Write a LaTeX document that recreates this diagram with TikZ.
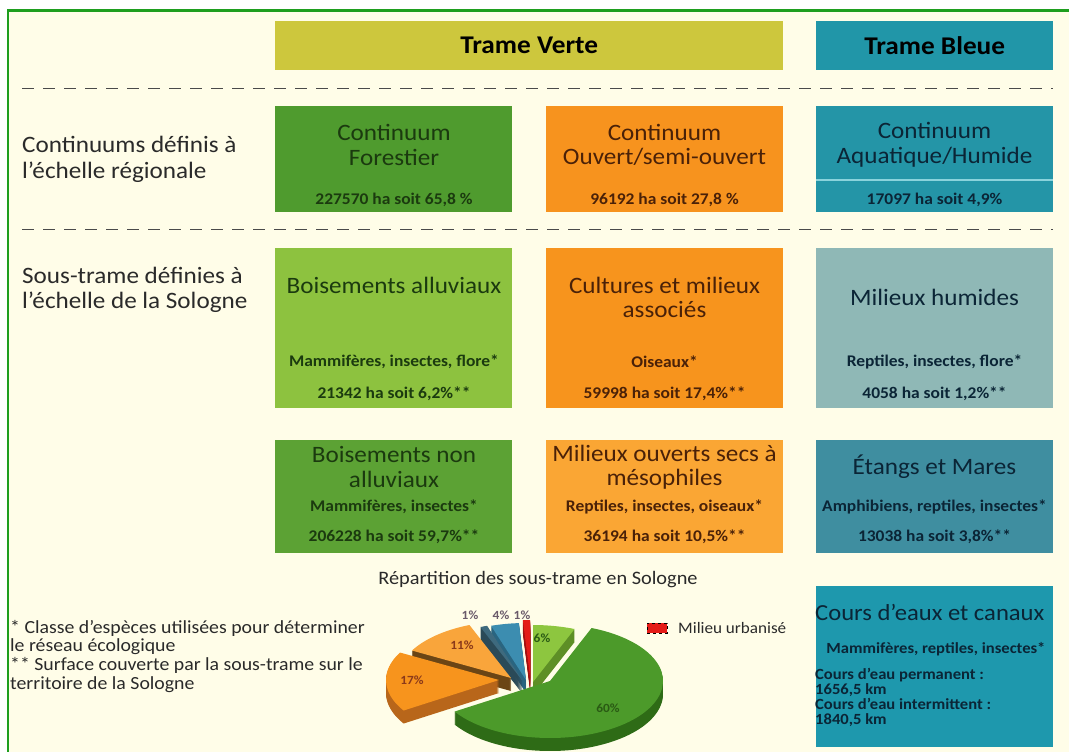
\documentclass[tikz,border=0pt]{standalone}
\usepackage{fontspec}
\setmainfont{Carlito}[FakeStretch=1.07]
\usetikzlibrary{positioning}

\definecolor{fond}{HTML}{FFFDE8}
\definecolor{cadre}{HTML}{1E9E1E}
\definecolor{verte}{HTML}{CDC73D}
\definecolor{bleue}{HTML}{2196A8}
\definecolor{forest}{HTML}{4F9B2E}
\definecolor{ouvert}{HTML}{F7931E}
\definecolor{aqua}{HTML}{2495A7}
\definecolor{aqualigne}{HTML}{8AD3DC}
\definecolor{alluv}{HTML}{8DC23F}
\definecolor{cultures}{HTML}{F7941D}
\definecolor{humides}{HTML}{8FB8B6}
\definecolor{nonalluv}{HTML}{5CA234}
\definecolor{secs}{HTML}{FAA634}
\definecolor{etangs}{HTML}{3F8EA0}
\definecolor{cours}{HTML}{1E98AD}
\definecolor{txtvert}{HTML}{1B3A0F}
\definecolor{txtorange}{HTML}{4A2108}
\definecolor{txtbleu}{HTML}{0B2536}
\definecolor{txtgris}{HTML}{2A2A2A}
\definecolor{tirets}{HTML}{4A4A4A}
\definecolor{partForet}{HTML}{4C9A2A}
\definecolor{partForetC}{HTML}{2E6B16}
\definecolor{partAlluv}{HTML}{8DC63F}
\definecolor{partAlluvC}{HTML}{5E8F26}
\definecolor{partCult}{HTML}{F7941D}
\definecolor{partCultC}{HTML}{B8661A}
\definecolor{partSecs}{HTML}{F9A53B}
\definecolor{partSecsC}{HTML}{6B4515}
\definecolor{partHumide}{HTML}{3E6A7E}
\definecolor{partHumideC}{HTML}{2A4A58}
\definecolor{partEtang}{HTML}{3C8DB0}
\definecolor{partEtangC}{HTML}{2A6580}
\definecolor{partUrb}{HTML}{E41B17}
\definecolor{partUrbC}{HTML}{A01010}
\definecolor{pctvert}{HTML}{2A5A14}
\definecolor{pctbrun}{HTML}{8B3A1A}
\definecolor{pctgris}{HTML}{6A5A6A}

\begin{document}
\begin{tikzpicture}[x=1pt, y=-1pt,
    box/.style={rectangle, inner sep=0pt, minimum width=237pt, anchor=north west},
    hdr/.style={box, minimum height=49pt, font=\bfseries\fontsize{25.5}{27}\selectfont},
    ttl/.style={align=center, inner sep=0pt, font=\fontsize{23.5}{24.5}\selectfont},
    sml/.style={inner sep=0pt, font=\bfseries\fontsize{16.3}{18}\selectfont},
    lbl/.style={anchor=west, align=left, inner sep=0pt, text=txtgris, font=\fontsize{23.5}{27}\selectfont},
    note/.style={anchor=base west, inner sep=0pt, text=txtgris, font=\fontsize{18.5}{20}\selectfont},
    ligne/.style={anchor=base west, inner sep=0pt, text=txtbleu, font=\bfseries\fontsize{15.5}{17}\selectfont},
    pct/.style={inner sep=0pt, font=\bfseries\fontsize{12.5}{14}\selectfont},
    sep/.style={draw=tirets, line width=1.9pt, dash pattern=on 12pt off 9pt}
  ]
  % fond et cadre
  \useasboundingbox (0,0) rectangle (1069,752);
  \fill[white] (0,0) rectangle (1069,752);
  \fill[fond] (8,10.5) rectangle (1069,752);
  \draw[cadre, line width=2.6pt] (8,760) -- (8,10.5) -- (1080,10.5);

  % en-tetes
  \node[hdr, minimum width=508pt, fill=verte] (tverte) at (275,21) {Trame Verte};
  \node[hdr, fill=bleue] (tbleue) at (816,21) {Trame Bleue};
  \draw[sep] (22,88.5) -- (1053,88.5);
  \draw[sep] (22,229.5) -- (1053,229.5);

  % libelles a gauche
  \node[lbl, font=\fontsize{23.5}{26}\selectfont] (lcont) at (22,159) {Continuums définis à\\l’échelle régionale};
  \node[lbl, font=\fontsize{23.5}{25}\selectfont] (lsous) at (22,289.5) {Sous-trame définies à\\l’échelle de la Sologne};

  % premiere ligne
  \node[box, minimum height=106pt, fill=forest] (cfor) at (275,106) {};
  \node[box, minimum height=106pt, fill=ouvert] (couv) at (546,106) {};
  \node[box, minimum height=106pt, fill=aqua] (caqu) at (816,106) {};
  \draw[aqualigne, line width=1.2pt] (816,180) -- (1053,180);
  \node[ttl, text=txtvert] (cforT) at (394,145) {Continuum\\Forestier};
  \node[sml, text=txtvert] (cforN) at (394,200) {227570 ha soit 65,8 \%};
  \node[ttl, text=txtorange] (couvT) at (664.5,145) {Continuum\\Ouvert/semi-ouvert};
  \node[sml, text=txtorange] (couvN) at (664.5,200) {96192 ha soit 27,8 \%};
  \node[ttl, text=txtbleu] (caquT) at (934.5,145) {Continuum\\Aquatique/Humide};
  \node[sml, text=txtbleu] (caquN) at (934.5,200) {17097 ha soit 4,9\%};

  % deuxieme ligne
  \node[box, minimum height=160pt, fill=alluv] (ball) at (275,247.5) {};
  \node[box, minimum height=160pt, fill=cultures] (cult) at (546,247.5) {};
  \node[box, minimum height=160pt, fill=humides] (humi) at (816,247.5) {};
  \node[ttl, text=txtvert] (ballT) at (394,285) {Boisements alluviaux};
  \node[sml, text=txtvert] (ballS) at (394,362) {Mammifères, insectes, flore*};
  \node[sml, text=txtvert] (ballN) at (394,394) {21342 ha soit 6,2\%**};
  \node[ttl, text=txtorange] (cultT) at (664.5,297.5) {Cultures et milieux\\associés};
  \node[sml, text=txtorange] (cultS) at (664.5,362) {Oiseaux*};
  \node[sml, text=txtorange] (cultN) at (664.5,394) {59998 ha soit 17,4\%**};
  \node[ttl, text=txtbleu] (humiT) at (934.5,297.5) {Milieux humides};
  \node[sml, text=txtbleu] (humiS) at (934.5,362) {Reptiles, insectes, flore*};
  \node[sml, text=txtbleu] (humiN) at (934.5,394) {4058 ha soit 1,2\%**};

  % troisieme ligne
  \node[box, minimum height=113pt, fill=nonalluv] (bnon) at (275,440) {};
  \node[box, minimum height=113pt, fill=secs] (msec) at (546,440) {};
  \node[box, minimum height=113pt, fill=etangs] (etan) at (816,440) {};
  \node[ttl, text=txtvert] (bnonT) at (394,467) {Boisements non\\alluviaux};
  \node[sml, text=txtvert] (bnonS) at (394,507) {Mammifères, insectes*};
  \node[sml, text=txtvert] (bnonN) at (394,537) {206228 ha soit 59,7\%**};
  \node[ttl, text=txtorange] (msecT) at (664.5,467) {Milieux ouverts secs à\\mésophiles};
  \node[sml, text=txtorange] (msecS) at (664.5,507) {Reptiles, insectes, oiseaux*};
  \node[sml, text=txtorange] (msecN) at (664.5,537) {36194 ha soit 10,5\%**};
  \node[ttl, text=txtbleu] (etanT) at (934.5,467) {Étangs et Mares};
  \node[sml, text=txtbleu] (etanS) at (934.5,507) {Amphibiens, reptiles, insectes*};
  \node[sml, text=txtbleu] (etanN) at (934.5,537) {13038 ha soit 3,8\%**};

  % cours d'eau
  \node[box, minimum height=161pt, fill=cours] (cours) at (816,586) {};
  \node[anchor=west, inner sep=0pt, text=txtbleu, font=\fontsize{23}{25}\selectfont] (coursT) at (815,612) {Cours d’eaux et canaux};
  \node[sml, text=txtbleu, font=\bfseries\fontsize{15.5}{17}\selectfont] (coursS) at (936,649) {Mammifères, reptiles, insectes*};
  \node[ligne] (coursL1) at (815,679) {Cours d’eau permanent :};
  \node[ligne] (coursL2) at (815,694) {1656,5 km};
  \node[ligne] (coursL3) at (815,709.5) {Cours d’eau intermittent :};
  \node[ligne] (coursL4) at (815,724.5) {1840,5 km};

  % notes
  \node[note] (note1) at (10,633) {* Classe d’espèces utilisées pour déterminer};
  \node[note] (note2) at (10,651.5) {le réseau écologique};
  \node[note] (note3) at (10,670.5) {** Surface couverte par la sous-trame sur le};
  \node[note] (note4) at (10,689.5) {territoire de la Sologne};

  % camembert
  \node[inner sep=0pt, text=txtgris, font=\fontsize{19}{21}\selectfont] (ptitre) at (538,580) {Répartition des sous-trame en Sologne};
  \foreach \a/\b/\cx/\cy/\dessus/\cote in {68.4/90/533/682/partAlluv/partAlluvC,
      90/93.6/530/677/partUrb/partUrbC, 93.6/108/526/680/partEtang/partEtangC,
      108/111.6/522/680/partHumide/partHumideC, 111.6/151.2/511/678/partSecs/partSecsC,
      151.2/212.4/499/680/partCult/partCultC, 212.4/428.4/550/681/partForet/partForetC}
  {
    \foreach \d in {13,12,...,1}
      \fill[\cote] (\cx,\cy+\d) -- ++(-\a:113 and 57) arc[start angle=-\a, end angle=-\b, x radius=113, y radius=57] -- cycle;
    \fill[\dessus] (\cx,\cy) -- ++(-\a:113 and 57) arc[start angle=-\a, end angle=-\b, x radius=113, y radius=57] -- cycle;
  }
  \node[pct, text=pctgris] (p1a) at (470,615) {1\%};
  \node[pct, text=pctgris] (p4) at (501,615) {4\%};
  \node[pct, text=pctgris] (p1b) at (522,615) {1\%};
  \node[pct, text=pctvert] (p6) at (542,638) {6\%};
  \node[pct, text=pctbrun] (p11) at (462,645) {11\%};
  \node[pct, text=pctbrun] (p17) at (412,680) {17\%};
  \node[pct, text=pctvert] (p60) at (608,708) {60\%};

  % legende
  \node[draw=black, dashed, line width=0.8pt, fill=partUrb, minimum width=20pt, minimum height=10pt, inner sep=0pt] (legUrb) at (657,628) {};
  \node[anchor=west, inner sep=0pt, text=txtgris, font=\fontsize{16}{18}\selectfont] (legTxt) at (678,628) {Milieu urbanisé};
\end{tikzpicture}
\end{document}
